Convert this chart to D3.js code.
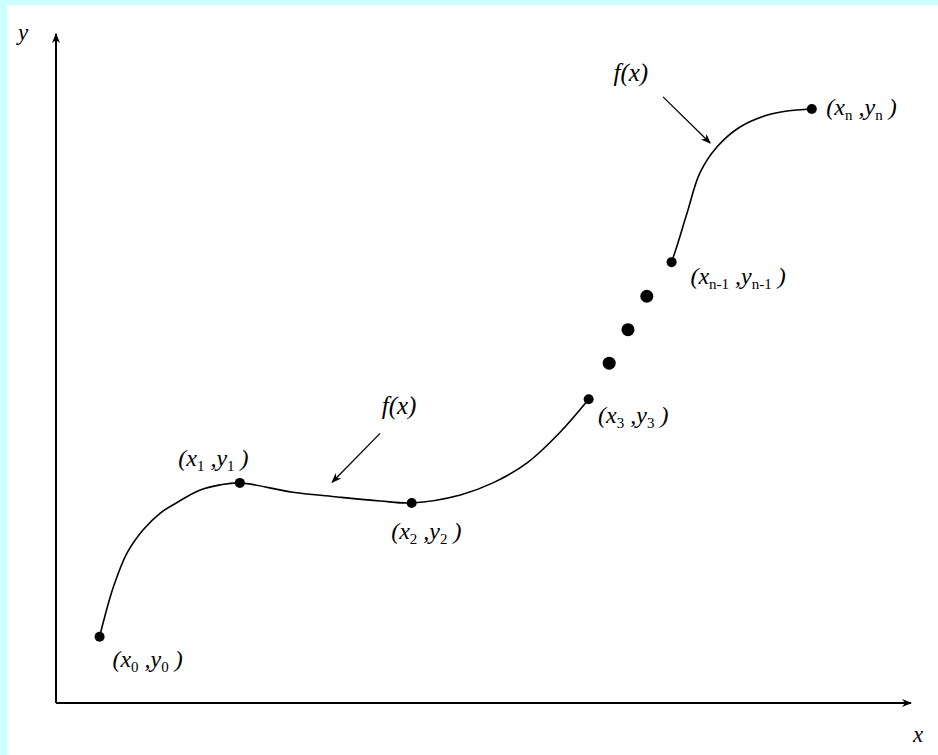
<!DOCTYPE html>
<html>
<head>
<meta charset="utf-8">
<script src="https://cdn.jsdelivr.net/npm/d3@7"></script>
<style>
  html, body { margin: 0; padding: 0; background: #ccffff; }
  svg { display: block; }
  .lbl { font-family: "Liberation Serif", "DejaVu Serif", serif; font-style: italic; fill: #000; }
</style>
</head>
<body>
<div class="chart-container"></div>
<script>
// curve samples, in chart units (0..100 on both axes)
var curveA = [
    [5.1, 9.9], [5.7, 12.9], [6.7, 17.3], [8.3, 22.4], [10.2, 25.9], [12.2, 28.4],
    [14.2, 30.0], [16.8, 31.8], [19.2, 32.6], [21.5, 32.9], [27.7, 31.5], [32.9, 30.8],
    [37.9, 30.2], [41.6, 29.9], [47.3, 31.1], [51.1, 32.9], [55.1, 35.9], [58.9, 40.4],
    [62.3, 45.4]
];
var curveB = [
    [72.0, 65.9], [72.6, 68.2], [73.8, 73.2], [75.3, 79.2], [77.3, 83.1],
    [80.0, 86.1], [83.2, 87.9], [85.5, 88.5], [88.4, 88.8]
];

// the marked knots and the three "..." dots
var knots = [[5.1, 9.9], [21.5, 32.9], [41.6, 29.9], [62.3, 45.4], [72.0, 65.9], [88.4, 88.8]];
var dots = [[64.7, 50.8], [66.9, 55.8], [69.1, 60.8]];

// point labels: subscript, anchor in chart units
var labelSubs = ["0", "1", "2", "3", "n-1", "n"];
var labelPos = [[6.6, 5.4], [14.3, 35.4], [39.2, 24.5], [63.4, 41.9], [74.2, 62.7], [90.1, 87.9]];

// the two f(x) annotations: label position, arrow start, arrow end
var fxLabels = [[38.1, 43.2], [65.2, 93.0]];
var fxArrowFrom = [[37.9, 40.3], [71.0, 90.6]];
var fxArrowTo = [[32.3, 33.0], [76.5, 83.7]];

var width = 938;
var height = 755;

var svg = d3.select(".chart-container").append("svg")
    .attr("width", width)
    .attr("height", height);

// white drawing area, cyan shows on the top and left edges
svg.append("rect")
    .attr("x", 7).attr("y", 5)
    .attr("width", width - 7).attr("height", height - 5)
    .attr("fill", "#fff");

var x = d3.scaleLinear().domain([0, 100]).range([56, 911]);
var y = d3.scaleLinear().domain([0, 100]).range([703, 34]);

// arrow heads
var defs = svg.append("defs");
defs.append("marker")
    .attr("id", "head")
    .attr("viewBox", "0 0 10 10")
    .attr("refX", 9).attr("refY", 5)
    .attr("markerWidth", 10).attr("markerHeight", 10)
    .attr("markerUnits", "userSpaceOnUse")
    .attr("orient", "auto")
    .append("path")
    .attr("d", "M0,1 L10,5 L0,9 L3,5 Z")
    .attr("fill", "#000");

// axes
svg.append("line")
    .attr("x1", x(0)).attr("y1", y(0))
    .attr("x2", x(0)).attr("y2", y(100))
    .attr("stroke", "#000").attr("stroke-width", 2)
    .attr("marker-end", "url(#head)");
svg.append("line")
    .attr("x1", x(0)).attr("y1", y(0))
    .attr("x2", x(100)).attr("y2", y(0))
    .attr("stroke", "#000").attr("stroke-width", 2)
    .attr("marker-end", "url(#head)");

svg.append("text").attr("class", "lbl")
    .attr("x", 18).attr("y", 40)
    .attr("font-size", 23)
    .text("y");
svg.append("text").attr("class", "lbl")
    .attr("x", 913).attr("y", 742)
    .attr("font-size", 23)
    .text("x");

// the function curve, drawn in two pieces
var line = d3.line()
    .x(function(d) { return x(d[0]); })
    .y(function(d) { return y(d[1]); })
    .curve(d3.curveCatmullRom.alpha(0.5));

svg.selectAll(".fx")
    .data([curveA, curveB])
    .join("path")
    .attr("class", "fx")
    .attr("d", line)
    .attr("fill", "none")
    .attr("stroke", "#000")
    .attr("stroke-width", 1.6);

svg.append("g")
    .selectAll("circle")
    .data(knots)
    .join("circle")
    .attr("cx", function(d) { return x(d[0]); })
    .attr("cy", function(d) { return y(d[1]); })
    .attr("r", 5)
    .attr("fill", "#000");

svg.append("g")
    .selectAll("circle")
    .data(dots)
    .join("circle")
    .attr("cx", function(d) { return x(d[0]); })
    .attr("cy", function(d) { return y(d[1]); })
    .attr("r", 6.5)
    .attr("fill", "#000");

// point labels like (x0 ,y0 )
var labels = svg.append("g")
    .selectAll("text")
    .data(labelSubs)
    .join("text")
    .attr("class", "lbl")
    .attr("font-size", 24)
    .attr("x", function(d, i) { return x(labelPos[i][0]); })
    .attr("y", function(d, i) { return y(labelPos[i][1]); });

labels.each(function(sub) {
    var t = d3.select(this);
    t.append("tspan").text("(x");
    t.append("tspan").attr("font-size", 15).attr("font-style", "normal").attr("dy", 5).text(sub);
    t.append("tspan").attr("dy", -5).text(" ,y");
    t.append("tspan").attr("font-size", 15).attr("font-style", "normal").attr("dy", 5).text(sub);
    t.append("tspan").attr("dy", -5).text(" )");
});

// f(x) annotations with arrows
svg.append("g")
    .selectAll("text")
    .data(fxLabels)
    .join("text")
    .attr("class", "lbl")
    .attr("font-size", 25)
    .attr("x", function(d) { return x(d[0]); })
    .attr("y", function(d) { return y(d[1]); })
    .text("f(x)");

svg.append("g")
    .selectAll("line")
    .data(fxArrowFrom)
    .join("line")
    .attr("x1", function(d) { return x(d[0]); })
    .attr("y1", function(d) { return y(d[1]); })
    .attr("x2", function(d, i) { return x(fxArrowTo[i][0]); })
    .attr("y2", function(d, i) { return y(fxArrowTo[i][1]); })
    .attr("stroke", "#000")
    .attr("stroke-width", 1.3)
    .attr("marker-end", "url(#head)");
</script>
</body>
</html>
